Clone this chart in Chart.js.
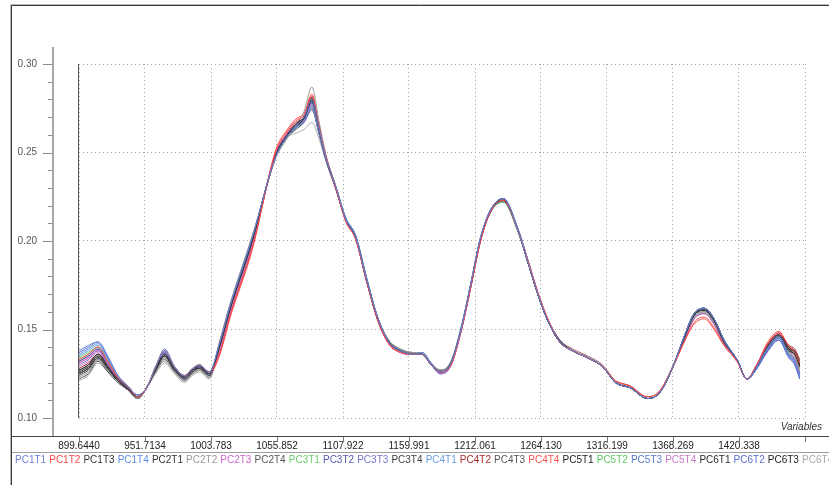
<!DOCTYPE html>
<html>
<head>
<meta charset="utf-8">
<script src="https://cdn.jsdelivr.net/npm/chart.js@4/dist/chart.umd.min.js"></script>
<style>
  html, body { margin: 0; padding: 0; background: #ffffff; }
  #wrap { position: relative; width: 829px; height: 485px; overflow: hidden; }
  #chart { position: absolute; left: 0; top: 0; }
  #axisName { position: absolute; right: 7px; top: 421px; font: italic 10px "Liberation Sans", Arial, sans-serif; color: #333; }
  #legend { position: absolute; left: 15px; top: 454px; width: 814px; height: 14px; line-height: 14px;
            white-space: nowrap; overflow: hidden; font: 10px "Liberation Sans", Arial, sans-serif; word-spacing: 0.3px; }
</style>
</head>
<body>
<div id="wrap">
  <canvas id="chart" width="829" height="485"></canvas>
  <div id="axisName">Variables</div>
  <div id="legend"></div>
</div>
<script>
// Wavelength positions shared by every spectrum
const wavelengths = [899.644, 907.0, 914.6, 922.4, 930.3, 938.1, 946.0, 953.0, 960.1, 967.2, 975.0, 982.9, 989.2, 994.7, 1002.5, 1010.4, 1019.0, 1036.3, 1055.1, 1063.0, 1070.8, 1077.1, 1083.4, 1088.9, 1094.4, 1102.2, 1110.1, 1117.9, 1126.6, 1135.2, 1143.9, 1153.3, 1162.7, 1170.5, 1177.6, 1184.7, 1192.5, 1200.4, 1208.2, 1216.1, 1223.9, 1234.2, 1245.9, 1253.8, 1261.6, 1269.5, 1278.9, 1289.1, 1300.9, 1312.7, 1322.9, 1334.7, 1348.0, 1357.4, 1367.7, 1377.1, 1384.9, 1392.8, 1400.7, 1408.5, 1418.7, 1426.6, 1434.4, 1442.3, 1451.7, 1459.6, 1464.3, 1468.2];

// Spectra, one array per sample
const pc1t1 = [0.138,0.141,0.143,0.135,0.124,0.118,0.113,0.117, 0.129,0.138,0.129,0.124,0.128,0.130,0.126, 0.142,0.164,0.202, 0.248,0.258,0.265,0.270,0.280,0.264,0.247, 0.231,0.212,0.202,0.178,0.157,0.143,0.138,0.136,0.136,0.130,0.126,0.130, 0.148,0.174,0.201,0.217,0.224,0.206,0.188, 0.170,0.155,0.143,0.138,0.134,0.129,0.120,0.117,0.111,0.114, 0.128,0.146,0.159,0.162,0.156,0.144,0.133,0.122, 0.129,0.139,0.146,0.136,0.132,0.124];
const pc1t2 = [0.133,0.136,0.140,0.132,0.123,0.118,0.112,0.117, 0.129,0.138,0.129,0.124,0.128,0.130,0.126, 0.136,0.158,0.196, 0.251,0.261,0.268,0.271,0.282,0.265,0.248, 0.230,0.211,0.201,0.177,0.156,0.142,0.137,0.136,0.136,0.130,0.126,0.129, 0.147,0.172,0.199,0.216,0.223,0.206,0.189, 0.171,0.156,0.143,0.138,0.134,0.129,0.121,0.118,0.112,0.115, 0.128,0.143,0.154,0.157,0.151,0.141,0.132,0.122, 0.130,0.141,0.148,0.141,0.137,0.131];
const pc1t3 = [0.127,0.130,0.136,0.129,0.122,0.117,0.112,0.117, 0.128,0.136,0.128,0.123,0.127,0.129,0.125, 0.140,0.162,0.200, 0.249,0.259,0.265,0.269,0.279,0.263,0.247, 0.230,0.212,0.202,0.178,0.156,0.143,0.138,0.136,0.136,0.130,0.126,0.130, 0.148,0.173,0.200,0.216,0.224,0.206,0.188, 0.170,0.155,0.143,0.138,0.134,0.129,0.120,0.117,0.111,0.114, 0.128,0.145,0.158,0.161,0.155,0.143,0.133,0.122, 0.129,0.139,0.146,0.138,0.136,0.129];
const pc1t4 = [0.136,0.139,0.142,0.134,0.124,0.118,0.113,0.117, 0.128,0.137,0.128,0.123,0.127,0.129,0.125, 0.141,0.163,0.201, 0.249,0.259,0.264,0.268,0.276,0.262,0.247, 0.230,0.213,0.203,0.179,0.157,0.143,0.138,0.136,0.137,0.131,0.126,0.130, 0.149,0.174,0.201,0.217,0.224,0.207,0.189, 0.170,0.155,0.143,0.138,0.134,0.129,0.120,0.117,0.111,0.114, 0.128,0.146,0.159,0.162,0.156,0.144,0.133,0.122, 0.128,0.138,0.145,0.135,0.131,0.123];
const pc2t1 = [0.125,0.128,0.134,0.128,0.121,0.116,0.112,0.117, 0.127,0.135,0.127,0.123,0.127,0.128,0.125, 0.140,0.162,0.200, 0.249,0.259,0.266,0.270,0.280,0.264,0.247, 0.230,0.212,0.202,0.177,0.156,0.143,0.138,0.136,0.136,0.130,0.126,0.130, 0.148,0.173,0.200,0.216,0.223,0.206,0.188, 0.170,0.155,0.144,0.138,0.134,0.129,0.120,0.117,0.111,0.114, 0.128,0.145,0.158,0.161,0.155,0.143,0.133,0.122, 0.129,0.140,0.147,0.139,0.137,0.130];
const pc2t2 = [0.123,0.126,0.133,0.127,0.120,0.116,0.111,0.117, 0.126,0.132,0.126,0.121,0.125,0.127,0.123, 0.143,0.165,0.203, 0.247,0.257,0.266,0.273,0.287,0.268,0.249, 0.231,0.213,0.203,0.179,0.157,0.144,0.139,0.137,0.137,0.131,0.127,0.131, 0.149,0.174,0.201,0.217,0.224,0.207,0.189, 0.171,0.156,0.144,0.139,0.135,0.130,0.121,0.118,0.112,0.115, 0.129,0.145,0.157,0.160,0.154,0.143,0.133,0.122, 0.129,0.139,0.146,0.138,0.135,0.128];
const pc2t3 = [0.131,0.134,0.138,0.131,0.122,0.117,0.112,0.117, 0.128,0.137,0.128,0.123,0.127,0.129,0.125, 0.138,0.160,0.198, 0.250,0.260,0.266,0.268,0.277,0.263,0.247, 0.230,0.212,0.202,0.178,0.156,0.142,0.137,0.136,0.136,0.130,0.125,0.129, 0.147,0.173,0.200,0.216,0.223,0.206,0.188, 0.170,0.155,0.143,0.138,0.134,0.129,0.120,0.117,0.111,0.114, 0.128,0.144,0.156,0.159,0.153,0.142,0.133,0.122, 0.130,0.140,0.147,0.138,0.133,0.126];
const pc2t4 = [0.126,0.129,0.135,0.128,0.121,0.117,0.112,0.117, 0.127,0.134,0.127,0.122,0.126,0.128,0.124, 0.142,0.164,0.202, 0.248,0.258,0.264,0.269,0.279,0.263,0.247, 0.231,0.213,0.203,0.179,0.157,0.144,0.139,0.137,0.137,0.131,0.127,0.131, 0.149,0.174,0.201,0.217,0.223,0.206,0.188, 0.170,0.155,0.143,0.138,0.134,0.129,0.120,0.117,0.111,0.114, 0.128,0.146,0.159,0.162,0.156,0.144,0.133,0.122, 0.129,0.139,0.146,0.138,0.136,0.129];
const pc3t1 = [0.134,0.137,0.140,0.132,0.123,0.118,0.112,0.117, 0.129,0.138,0.129,0.124,0.128,0.130,0.126, 0.140,0.162,0.200, 0.249,0.259,0.264,0.268,0.276,0.262,0.247, 0.230,0.212,0.202,0.178,0.156,0.143,0.138,0.136,0.136,0.130,0.126,0.130, 0.148,0.173,0.200,0.216,0.222,0.205,0.188, 0.170,0.155,0.143,0.138,0.134,0.129,0.120,0.117,0.111,0.114, 0.128,0.145,0.157,0.160,0.154,0.143,0.133,0.122, 0.129,0.139,0.146,0.137,0.134,0.127];
const pc3t2 = [0.132,0.135,0.139,0.131,0.123,0.117,0.112,0.117, 0.128,0.137,0.128,0.123,0.127,0.129,0.125, 0.141,0.163,0.201, 0.249,0.259,0.265,0.269,0.278,0.263,0.247, 0.230,0.212,0.202,0.178,0.156,0.143,0.138,0.136,0.136,0.130,0.126,0.130, 0.148,0.173,0.200,0.217,0.224,0.207,0.189, 0.171,0.155,0.143,0.138,0.134,0.129,0.120,0.117,0.111,0.114, 0.128,0.145,0.158,0.161,0.155,0.143,0.133,0.122, 0.128,0.137,0.144,0.134,0.130,0.122];
const pc3t3 = [0.130,0.133,0.138,0.130,0.122,0.117,0.112,0.117, 0.128,0.136,0.128,0.123,0.127,0.129,0.125, 0.139,0.161,0.199, 0.249,0.259,0.265,0.267,0.275,0.261,0.246, 0.230,0.212,0.202,0.178,0.156,0.143,0.138,0.136,0.136,0.130,0.126,0.130, 0.148,0.173,0.200,0.216,0.222,0.206,0.188, 0.170,0.155,0.143,0.138,0.134,0.129,0.120,0.117,0.111,0.114, 0.128,0.144,0.156,0.159,0.153,0.142,0.133,0.122, 0.128,0.138,0.145,0.136,0.133,0.125];
const pc3t4 = [0.124,0.127,0.133,0.127,0.121,0.116,0.111,0.117, 0.127,0.135,0.127,0.122,0.126,0.128,0.124, 0.141,0.163,0.201, 0.248,0.258,0.265,0.270,0.281,0.265,0.248, 0.231,0.212,0.202,0.178,0.157,0.143,0.138,0.137,0.136,0.130,0.127,0.131, 0.148,0.173,0.200,0.216,0.223,0.206,0.188, 0.170,0.155,0.143,0.138,0.134,0.129,0.120,0.117,0.111,0.114, 0.128,0.146,0.159,0.162,0.156,0.144,0.133,0.122, 0.130,0.140,0.147,0.140,0.138,0.132];
const pc4t1 = [0.135,0.138,0.141,0.133,0.123,0.118,0.113,0.117, 0.129,0.138,0.129,0.124,0.128,0.130,0.126, 0.141,0.163,0.201, 0.249,0.259,0.264,0.268,0.277,0.262,0.247, 0.230,0.212,0.202,0.178,0.156,0.143,0.138,0.136,0.136,0.130,0.125,0.129, 0.147,0.172,0.199,0.216,0.224,0.207,0.189, 0.171,0.156,0.144,0.138,0.134,0.129,0.120,0.117,0.111,0.114, 0.128,0.145,0.158,0.161,0.155,0.143,0.133,0.122, 0.128,0.138,0.145,0.136,0.133,0.125];
const pc4t2 = [0.128,0.131,0.136,0.130,0.122,0.117,0.112,0.117, 0.128,0.137,0.128,0.124,0.127,0.130,0.125, 0.137,0.159,0.197, 0.250,0.260,0.267,0.270,0.281,0.264,0.248, 0.230,0.212,0.201,0.177,0.156,0.142,0.137,0.136,0.136,0.130,0.126,0.129, 0.147,0.172,0.199,0.216,0.223,0.206,0.189, 0.170,0.155,0.143,0.138,0.134,0.129,0.121,0.118,0.111,0.114, 0.128,0.144,0.156,0.159,0.153,0.142,0.133,0.122, 0.130,0.141,0.148,0.141,0.139,0.133];
const pc4t3 = [0.122,0.125,0.132,0.126,0.120,0.116,0.111,0.117, 0.126,0.133,0.126,0.121,0.125,0.127,0.123, 0.142,0.164,0.202, 0.248,0.258,0.263,0.267,0.274,0.261,0.246, 0.230,0.212,0.202,0.178,0.156,0.143,0.138,0.136,0.136,0.130,0.126,0.130, 0.148,0.173,0.200,0.216,0.222,0.206,0.188, 0.170,0.155,0.143,0.138,0.134,0.129,0.120,0.117,0.111,0.114, 0.128,0.145,0.158,0.161,0.155,0.143,0.133,0.122, 0.129,0.139,0.146,0.139,0.137,0.130];
const pc4t4 = [0.131,0.134,0.138,0.131,0.122,0.117,0.112,0.117, 0.128,0.137,0.128,0.124,0.127,0.130,0.125, 0.135,0.157,0.195, 0.252,0.262,0.269,0.272,0.283,0.266,0.248, 0.230,0.211,0.201,0.177,0.155,0.142,0.137,0.136,0.136,0.130,0.126,0.129, 0.147,0.172,0.199,0.216,0.223,0.206,0.189, 0.171,0.156,0.144,0.139,0.135,0.130,0.121,0.118,0.112,0.115, 0.128,0.143,0.153,0.156,0.150,0.141,0.132,0.122, 0.130,0.142,0.149,0.140,0.137,0.130];
const pc5t1 = [0.126,0.129,0.135,0.128,0.121,0.117,0.112,0.117, 0.128,0.136,0.128,0.123,0.127,0.129,0.125, 0.140,0.162,0.200, 0.249,0.259,0.266,0.270,0.280,0.264,0.247, 0.230,0.212,0.202,0.178,0.156,0.143,0.138,0.136,0.136,0.130,0.126,0.130, 0.148,0.173,0.200,0.216,0.223,0.206,0.188, 0.170,0.155,0.143,0.138,0.134,0.129,0.120,0.117,0.111,0.114, 0.128,0.146,0.159,0.162,0.156,0.144,0.133,0.122, 0.130,0.140,0.147,0.140,0.137,0.131];
const pc5t2 = [0.133,0.136,0.140,0.132,0.123,0.118,0.112,0.117, 0.128,0.137,0.128,0.123,0.127,0.129,0.125, 0.141,0.163,0.201, 0.249,0.259,0.264,0.268,0.276,0.262,0.247, 0.230,0.212,0.202,0.178,0.156,0.143,0.138,0.136,0.136,0.130,0.126,0.130, 0.148,0.173,0.200,0.216,0.223,0.206,0.188, 0.170,0.155,0.143,0.138,0.134,0.129,0.120,0.117,0.111,0.114, 0.128,0.145,0.158,0.161,0.155,0.143,0.133,0.122, 0.129,0.139,0.146,0.137,0.133,0.126];
const pc5t3 = [0.137,0.140,0.143,0.134,0.124,0.118,0.113,0.117, 0.129,0.139,0.129,0.124,0.128,0.130,0.126, 0.142,0.164,0.202, 0.248,0.258,0.264,0.269,0.278,0.263,0.247, 0.231,0.213,0.203,0.179,0.157,0.144,0.138,0.136,0.136,0.130,0.125,0.129, 0.148,0.174,0.201,0.217,0.224,0.207,0.189, 0.171,0.156,0.144,0.138,0.134,0.129,0.120,0.117,0.111,0.114, 0.128,0.146,0.159,0.162,0.156,0.144,0.133,0.122, 0.128,0.138,0.145,0.135,0.131,0.123];
const pc5t4 = [0.129,0.132,0.137,0.130,0.122,0.117,0.112,0.117, 0.128,0.136,0.128,0.123,0.127,0.129,0.125, 0.139,0.161,0.199, 0.250,0.259,0.265,0.268,0.276,0.262,0.247, 0.230,0.212,0.202,0.178,0.156,0.143,0.138,0.136,0.136,0.130,0.126,0.130, 0.148,0.173,0.200,0.216,0.223,0.206,0.188, 0.170,0.155,0.143,0.138,0.134,0.129,0.120,0.117,0.111,0.114, 0.128,0.145,0.157,0.160,0.154,0.143,0.133,0.122, 0.130,0.140,0.147,0.138,0.135,0.128];
const pc6t1 = [0.125,0.128,0.134,0.128,0.121,0.116,0.112,0.117, 0.127,0.135,0.128,0.122,0.126,0.129,0.124, 0.140,0.162,0.201, 0.249,0.259,0.266,0.270,0.280,0.264,0.247, 0.230,0.212,0.202,0.178,0.156,0.143,0.138,0.136,0.136,0.130,0.126,0.130, 0.148,0.173,0.200,0.216,0.223,0.206,0.188, 0.170,0.155,0.143,0.138,0.134,0.129,0.120,0.117,0.111,0.114, 0.128,0.145,0.158,0.161,0.155,0.143,0.133,0.122, 0.129,0.140,0.147,0.139,0.137,0.130];
const pc6t2 = [0.132,0.135,0.139,0.131,0.123,0.117,0.112,0.117, 0.128,0.137,0.128,0.124,0.127,0.130,0.125, 0.141,0.163,0.201, 0.249,0.259,0.264,0.267,0.275,0.261,0.246, 0.230,0.212,0.202,0.178,0.156,0.143,0.138,0.136,0.136,0.130,0.125,0.129, 0.148,0.173,0.200,0.216,0.222,0.206,0.188, 0.170,0.155,0.143,0.138,0.134,0.129,0.120,0.117,0.111,0.114, 0.128,0.145,0.158,0.161,0.155,0.143,0.133,0.122, 0.128,0.137,0.144,0.135,0.132,0.124];
const pc6t3 = [0.127,0.130,0.136,0.129,0.122,0.117,0.112,0.117, 0.128,0.136,0.128,0.123,0.127,0.129,0.125, 0.140,0.162,0.200, 0.249,0.259,0.265,0.269,0.279,0.264,0.247, 0.230,0.212,0.202,0.178,0.157,0.143,0.138,0.136,0.136,0.130,0.126,0.130, 0.148,0.173,0.200,0.216,0.224,0.206,0.188, 0.170,0.155,0.143,0.138,0.134,0.129,0.120,0.117,0.111,0.114, 0.128,0.146,0.159,0.162,0.156,0.144,0.133,0.122, 0.129,0.139,0.146,0.138,0.136,0.129];
const pc6t4 = [0.121,0.124,0.131,0.126,0.120,0.116,0.111,0.117, 0.125,0.131,0.125,0.120,0.124,0.126,0.122, 0.142,0.164,0.202, 0.248,0.258,0.261,0.263,0.267,0.258,0.245, 0.229,0.212,0.202,0.178,0.156,0.143,0.138,0.136,0.136,0.130,0.126,0.130, 0.148,0.173,0.200,0.216,0.222,0.206,0.188, 0.170,0.155,0.143,0.138,0.134,0.129,0.120,0.117,0.111,0.114, 0.128,0.145,0.157,0.160,0.154,0.143,0.133,0.122, 0.129,0.139,0.146,0.138,0.136,0.129];

const seriesNames = ['PC1T1','PC1T2','PC1T3','PC1T4','PC2T1','PC2T2','PC2T3','PC2T4','PC3T1','PC3T2','PC3T3','PC3T4','PC4T1','PC4T2','PC4T3','PC4T4','PC5T1','PC5T2','PC5T3','PC5T4','PC6T1','PC6T2','PC6T3','PC6T4'];
const seriesValues = [pc1t1,pc1t2,pc1t3,pc1t4,pc2t1,pc2t2,pc2t3,pc2t4,pc3t1,pc3t2,pc3t3,pc3t4,pc4t1,pc4t2,pc4t3,pc4t4,pc5t1,pc5t2,pc5t3,pc5t4,pc6t1,pc6t2,pc6t3,pc6t4];
const seriesColors = ['#6b7fd6','#ff4545','#333333','#5b8de6','#333333','#999999','#cc66cc','#555555','#6cc96c','#5858b8','#7373c9','#404040','#6b9be0','#a82828','#555555','#ff5252','#222222','#5ec85e','#5c78cc','#c878c8','#2a2a2a','#5a6ecc','#222222','#aaaaaa'];

// Axis ticks
const xTickValues = [899.644, 951.7134, 1003.783, 1055.852, 1107.922, 1159.991, 1212.061, 1264.130, 1316.199, 1368.269, 1420.338, 1472.408];
const xTickLabels = ['899.6440','951.7134','1003.783','1055.852','1107.922','1159.991','1212.061','1264.130','1316.199','1368.269','1420.338',''];
const yTickValues = [0.10, 0.15, 0.20, 0.25, 0.30];
const yTickLabels = ['0.10','0.15','0.20','0.25','0.30'];
const yMinorTickValues = [0.11,0.12,0.13,0.14,0.16,0.17,0.18,0.19,0.21,0.22,0.23,0.24,0.26,0.27,0.28,0.29];

const FONT = '"Liberation Sans", Arial, sans-serif';

// Frame, detached value axis with major/minor ticks, wavelength axis line and separator
const framePlugin = {
  id: 'frame',
  afterDraw(chart) {
    const ctx = chart.ctx;
    const ca = chart.chartArea;
    const xs = chart.scales.x;
    const ys = chart.scales.y;
    ctx.save();
    // window frame
    ctx.lineWidth = 1;
    ctx.strokeStyle = '#b8b8b8';
    ctx.beginPath(); ctx.moveTo(10.5, 485); ctx.lineTo(10.5, 4.5); ctx.lineTo(829, 4.5); ctx.stroke();
    ctx.strokeStyle = '#3a3a3a';
    ctx.beginPath(); ctx.moveTo(11.5, 485); ctx.lineTo(11.5, 5.5); ctx.lineTo(829, 5.5); ctx.stroke();

    // detached value axis
    const axX = ca.left - 26;
    ctx.fillStyle = '#a6a6a6';
    ctx.fillRect(axX - 1, 47, 2, 436 - 47);
    ctx.strokeStyle = '#8a8a8a';
    ctx.beginPath();
    yTickValues.forEach(v => {
      const py = Math.round(ys.getPixelForValue(v)) + 0.5;
      ctx.moveTo(axX - 10, py); ctx.lineTo(axX - 1, py);
    });
    yMinorTickValues.forEach(v => {
      const py = Math.round(ys.getPixelForValue(v)) + 0.5;
      ctx.moveTo(axX - 5, py); ctx.lineTo(axX - 1, py);
    });
    ctx.stroke();

    // left edge of the plotting area
    ctx.strokeStyle = '#555555';
    ctx.beginPath();
    ctx.moveTo(Math.round(ca.left) - 0.5, ca.top);
    ctx.lineTo(Math.round(ca.left) - 0.5, ca.bottom);
    ctx.stroke();

    // wavelength axis line and ticks
    ctx.strokeStyle = '#444444';
    ctx.beginPath(); ctx.moveTo(11, 436.5); ctx.lineTo(829, 436.5); ctx.stroke();
    ctx.strokeStyle = '#777777';
    ctx.beginPath();
    xTickValues.forEach(v => {
      const px = Math.round(xs.getPixelForValue(v)) + 0.5;
      ctx.moveTo(px, 437); ctx.lineTo(px, 442);
    });
    ctx.stroke();

    // separator above the sample list
    ctx.strokeStyle = '#a0a0a0';
    ctx.beginPath(); ctx.moveTo(12, 452.5); ctx.lineTo(829, 452.5); ctx.stroke();
    ctx.restore();
  }
};

const datasets = seriesNames.map((name, i) => ({
  label: name,
  data: wavelengths.map((w, j) => ({ x: w, y: seriesValues[i][j] })),
  borderColor: seriesColors[i],
  backgroundColor: seriesColors[i],
  borderWidth: 1,
  pointRadius: 0,
  fill: false,
  cubicInterpolationMode: 'monotone'
}));

new Chart(document.getElementById('chart'), {
  type: 'line',
  data: { datasets },
  plugins: [framePlugin],
  options: {
    responsive: false,
    animation: false,
    devicePixelRatio: 1,
    layout: { padding: { top: 64, right: 24, left: 0, bottom: 0 } },
    plugins: { legend: { display: false }, tooltip: { enabled: false } },
    scales: {
      x: {
        type: 'linear',
        min: 899.644,
        max: 1472.408,
        afterBuildTicks: s => { s.ticks = xTickValues.map(v => ({ value: v })); },
        afterFit: s => { s.height = 67; },
        ticks: {
          autoSkip: false, maxRotation: 0, padding: 22,
          callback: (v, i) => xTickLabels[i],
          font: { family: FONT, size: 10 }, color: '#222222'
        },
        grid: { color: '#a4a4a4', drawTicks: false, lineWidth: 1 },
        border: { display: false, dash: [1, 3] }
      },
      y: {
        min: 0.1,
        max: 0.3,
        afterBuildTicks: s => { s.ticks = yTickValues.map(v => ({ value: v })); },
        afterFit: s => { s.width = 79; },
        ticks: {
          padding: 42,
          callback: (v, i) => yTickLabels[i],
          font: { family: FONT, size: 10 }, color: '#555555'
        },
        grid: { color: '#a4a4a4', drawTicks: false, lineWidth: 1 },
        border: { display: false, dash: [1, 3] }
      }
    }
  }
});

// Sample list under the axis
const legend = document.getElementById('legend');
seriesNames.forEach((name, i) => {
  const s = document.createElement('span');
  s.textContent = name;
  s.style.color = seriesColors[i];
  legend.appendChild(s);
  legend.appendChild(document.createTextNode(' '));
});
</script>
</body>
</html>
